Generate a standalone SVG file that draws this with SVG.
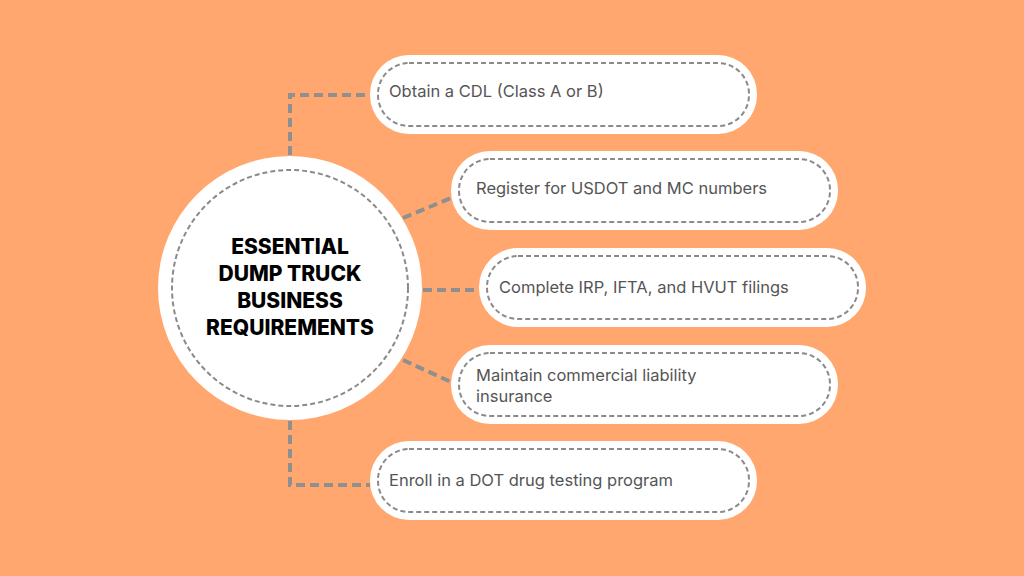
<svg xmlns="http://www.w3.org/2000/svg" width="1024" height="576" viewBox="0 0 1024 576">
<style>
.box{fill:#fff}
.in{fill:none;stroke:#8a8a8a;stroke-width:2;stroke-dasharray:5 3}
.lbl{font-family:Inter,"Open Sans",sans-serif;font-size:16.5px;fill:#555}
.con{fill:none;stroke:#8f8f8f;stroke-width:4;stroke-dasharray:9 5}
.t{font-family:Inter,"Liberation Sans",sans-serif;font-weight:800;font-size:21px;fill:#000;text-anchor:middle}
</style>
<rect width="1024" height="576" fill="#FFA76E"/>
<g id="connectors">
<path class="con" d="M290 155 V95 H370"/>
<path class="con" d="M403 218 L451 198"/>
<path class="con" d="M423 290 H479"/>
<path class="con" d="M403 360 L451 382"/>
<path class="con" d="M290 421 V485 H370"/>
</g>
<g id="center">
<circle cx="290" cy="288" r="132" fill="#fff"/>
<circle cx="290" cy="288" r="118" fill="none" stroke="#8a8a8a" stroke-width="2" stroke-dasharray="5 3"/>
<text class="t" x="290" y="254">ESSENTIAL</text>
<text class="t" x="290" y="281">DUMP TRUCK</text>
<text class="t" x="290" y="308">BUSINESS</text>
<text class="t" x="290" y="335">REQUIREMENTS</text>
</g>
<g id="n1"><rect class="box" x="370" y="55" width="387" height="79" rx="39"/><rect class="in" x="378" y="63" width="371" height="63" rx="31"/><text class="lbl" x="389" y="97">Obtain a CDL (Class A or B)</text></g>
<g id="n2"><rect class="box" x="451" y="151" width="387" height="79" rx="39"/><rect class="in" x="459" y="159" width="371" height="63" rx="31"/><text class="lbl" x="476" y="194">Register for USDOT and MC numbers</text></g>
<g id="n3"><rect class="box" x="479" y="248" width="387" height="79" rx="39"/><rect class="in" x="487" y="256" width="371" height="63" rx="31"/><text class="lbl" x="499" y="293">Complete IRP, IFTA, and HVUT filings</text></g>
<g id="n4"><rect class="box" x="451" y="345" width="387" height="79" rx="39"/><rect class="in" x="459" y="353" width="371" height="63" rx="31"/><text class="lbl" x="476" y="381">Maintain commercial liability</text><text class="lbl" x="476" y="402">insurance</text></g>
<g id="n5"><rect class="box" x="370" y="441" width="387" height="79" rx="39"/><rect class="in" x="378" y="449" width="371" height="63" rx="31"/><text class="lbl" x="389" y="486">Enroll in a DOT drug testing program</text></g>
</svg>
